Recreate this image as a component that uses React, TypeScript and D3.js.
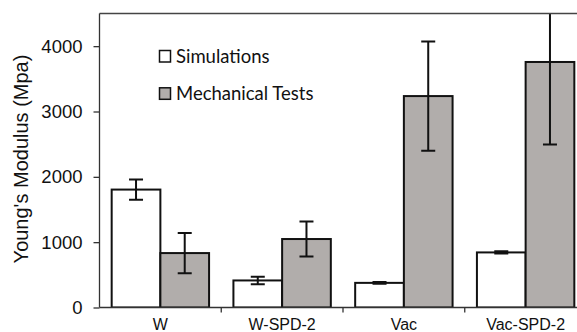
import React, { useEffect, useRef } from 'react';
import * as d3 from 'd3';

const categories = ['W', 'W-SPD-2', 'Vac', 'Vac-SPD-2'];
const seriesNames = ['Simulations', 'Mechanical Tests'];
const simulations = [1805, 414, 377, 843];
const simulationsErr = [155, 58, 12, 18];
const mechanical = [833, 1048, 3236, 3758];
const mechanicalErr = [307, 268, 836, 1264];
const yTicks = [0, 1000, 2000, 3000, 4000];

const width = 577;
const height = 332;
const grey = '#b1adab';

const App: React.FC = () => {
  const ref = useRef<SVGSVGElement>(null);

  useEffect(() => {
    if (!ref.current) return;
    const svg = d3.select(ref.current);
    svg.selectAll('*').remove();

    const left = 99.5;
    const top = 13.5;
    const bottom = 307.5;
    const right = 586.5;

    const x = d3.scaleBand().domain(categories).range([left, right]).padding(0);
    const sub = d3.scaleBand().domain(seriesNames).range([0, x.bandwidth()]).paddingInner(0).paddingOuter(0.25);
    const y = d3.scaleLinear().domain([0, 4500]).range([bottom, top]);

    svg.append('defs').append('clipPath').attr('id', 'plot')
      .append('rect').attr('x', left).attr('y', top).attr('width', right - left).attr('height', bottom - top);

    const rows = categories.map((c, i) => [
      { c, s: seriesNames[0], v: simulations[i], e: simulationsErr[i], fill: '#ffffff' },
      { c, s: seriesNames[1], v: mechanical[i], e: mechanicalErr[i], fill: grey },
    ]).flat();

    const g = svg.append('g').attr('clip-path', 'url(#plot)');

    g.selectAll('rect.bar')
      .data(rows)
      .enter().append('rect')
      .attr('class', 'bar')
      .attr('x', (d) => (x(d.c) || 0) + (sub(d.s) || 0))
      .attr('y', (d) => y(d.v))
      .attr('width', sub.bandwidth())
      .attr('height', (d) => y(0) - y(d.v))
      .attr('fill', (d) => d.fill)
      .attr('stroke', '#111')
      .attr('stroke-width', 2);

    // error bars
    const eb = g.selectAll('g.err').data(rows).enter().append('g').attr('class', 'err')
      .attr('stroke', '#111').attr('stroke-width', 2);
    const cx = (d: any) => (x(d.c) || 0) + (sub(d.s) || 0) + sub.bandwidth() / 2;
    eb.append('line')
      .attr('x1', cx).attr('x2', cx)
      .attr('y1', (d) => y(d.v - d.e)).attr('y2', (d) => y(d.v + d.e));
    eb.append('line')
      .attr('x1', (d) => cx(d) - 7).attr('x2', (d) => cx(d) + 7)
      .attr('y1', (d) => y(d.v - d.e)).attr('y2', (d) => y(d.v - d.e));
    eb.append('line')
      .attr('x1', (d) => cx(d) - 7).attr('x2', (d) => cx(d) + 7)
      .attr('y1', (d) => y(d.v + d.e)).attr('y2', (d) => y(d.v + d.e));

    // frame
    svg.append('line').attr('x1', left).attr('x2', width).attr('y1', top).attr('y2', top)
      .attr('stroke', '#444').attr('stroke-width', 1.3);

    // y axis
    const yAxis = svg.append('g').attr('transform', `translate(${left},0)`)
      .call(d3.axisLeft(y).tickValues(yTicks).tickSize(6).tickPadding(11).tickFormat(d3.format('d')));
    yAxis.select('.domain').attr('stroke', '#333').attr('stroke-width', 1.3).attr('d', `M0,${top}V${bottom}`);
    yAxis.selectAll('.tick line').attr('stroke', '#333').attr('stroke-width', 1.3);
    yAxis.selectAll('.tick text').attr('font-family', 'Liberation Sans, Arial, sans-serif')
      .attr('font-size', 18.5).attr('fill', '#111');

    // x axis
    svg.append('line').attr('x1', left).attr('x2', width).attr('y1', bottom).attr('y2', bottom)
      .attr('stroke', '#333').attr('stroke-width', 1.3);
    svg.selectAll('line.xt')
      .data(categories.slice(1))
      .enter().append('line')
      .attr('class', 'xt')
      .attr('x1', (d) => x(d) || 0).attr('x2', (d) => x(d) || 0)
      .attr('y1', bottom).attr('y2', bottom + 5)
      .attr('stroke', '#333').attr('stroke-width', 1.3);
    svg.selectAll('text.xl')
      .data(categories)
      .enter().append('text')
      .attr('class', 'xl')
      .attr('x', (d) => (x(d) || 0) + x.bandwidth() / 2)
      .attr('y', 330)
      .attr('text-anchor', 'middle')
      .attr('font-family', 'Liberation Sans, Arial, sans-serif')
      .attr('font-size', 16)
      .attr('fill', '#111')
      .text((d) => d);

    // y title
    svg.append('text')
      .attr('transform', `translate(27.5,159) rotate(-90)`)
      .attr('text-anchor', 'middle')
      .attr('font-family', 'Liberation Sans, Arial, sans-serif')
      .attr('font-size', 20)
      .attr('fill', '#111')
      .text("Young's Modulus (Mpa)");

    // legend
    const leg = svg.selectAll('g.leg')
      .data(seriesNames)
      .enter().append('g')
      .attr('class', 'leg')
      .attr('transform', (_d, i) => `translate(159.5,${50.5 + i * 37.3})`);
    leg.append('rect')
      .attr('width', 11).attr('height', 11.5)
      .attr('fill', (_d, i) => (i === 0 ? '#ffffff' : grey))
      .attr('stroke', '#111').attr('stroke-width', 1.5);
    leg.append('text')
      .attr('x', 16.5).attr('y', 12.5)
      .attr('font-family', 'Lato, sans-serif')
      .attr('font-size', 18.5)
      .attr('fill', '#111')
      .text((d) => d);
  }, []);

  return (
    <svg ref={ref} width={width} height={height} style={{ position: 'absolute', left: 0, top: 0, background: '#fff' }} />
  );
};

export default App;
